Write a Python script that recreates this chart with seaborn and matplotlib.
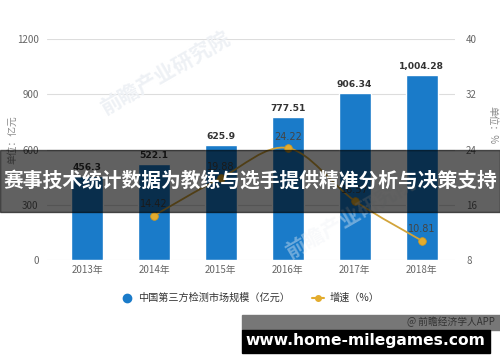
"""
China third-party testing market size with growth rate, 2013-2018
"""
import numpy as np
import pandas as pd
import matplotlib
matplotlib.use('Agg')
import matplotlib.pyplot as plt
from matplotlib.path import Path
from matplotlib.patches import PathPatch, Rectangle
from matplotlib.lines import Line2D
import seaborn as sns

years = ['2013年', '2014年', '2015年', '2016年', '2017年', '2018年']
market_size = [456.3, 522.1, 625.9, 777.51, 906.34, 1004.28]
size_labels = ['456.3', '522.1', '625.9', '777.51', '906.34', '1,004.28']
growth_years = ['2014年', '2015年', '2016年', '2017年', '2018年']
growth = [14.42, 19.88, 24.22, 16.57, 10.81]

banner_text = '赛事技术统计数据为教练与选手提供精准分析与决策支持'
site_text = 'www.home-milegames.com'

sns.set_style('white')
plt.rcParams['font.family'] = ['Noto Sans CJK SC', 'DejaVu Sans']

BLUE = '#1a7bc9'
GOLD = '#e3ac2e'
GREY = '#666666'

fig = plt.figure(figsize=(5, 3.62), dpi=100)
ax = fig.add_axes([0.094, 0.282, 0.816, 0.61])

df = pd.DataFrame({'year': years, 'size': market_size})
sns.barplot(data=df, x='year', y='size', color=BLUE, width=0.48,
            saturation=1, ax=ax, zorder=3)
ax.set_xlim(-0.6, 5.5)
ax.set_ylim(0, 1200)
ax.set_yticks([0, 300, 600, 900, 1200])
ax.grid(axis='y', color='#dddddd', lw=0.8, zorder=0)
ax.set_xlabel('')
ax.set_ylabel('')
for s in ax.spines.values():
    s.set_visible(False)
ax.tick_params(axis='both', length=0, colors=GREY, labelsize=7)
ax.tick_params(axis='y', pad=6)

for i, (v, lab) in enumerate(zip(market_size, size_labels)):
    ax.text(i, v + 22, lab, ha='center', va='bottom', fontsize=6.6,
            fontweight='bold', color='#333333', family='DejaVu Sans', zorder=5)

ax2 = ax.twinx()
ax2.set_ylim(8, 40)
ax2.set_yticks([8, 16, 24, 32, 40])
for s in ax2.spines.values():
    s.set_visible(False)
ax2.tick_params(axis='y', length=0, colors=GREY, labelsize=7, pad=8)

# smooth line through the growth points (cardinal spline as bezier)
gx = np.array([years.index(y) for y in growth_years], dtype=float)
gy = np.array(growth)
pts = np.column_stack([gx, gy])
ext = np.vstack([pts[0], pts, pts[-1]])
verts = [tuple(pts[0])]
codes = [Path.MOVETO]
for i in range(len(pts) - 1):
    p0, p1, p2, p3 = ext[i], ext[i + 1], ext[i + 2], ext[i + 3]
    c1 = p1 + (p2 - p0) / 6
    c2 = p2 - (p3 - p1) / 6
    verts += [tuple(c1), tuple(c2), tuple(p2)]
    codes += [Path.CURVE4] * 3
ax2.add_patch(PathPatch(Path(verts, codes), fill=False, edgecolor='#d2a43a',
                        lw=1.3, zorder=4))
sns.scatterplot(x=gx, y=gy, color=GOLD, s=30, edgecolor='#d29a20',
                linewidth=0.6, ax=ax2, zorder=6)
ax2.set_xlim(-0.6, 5.5)
for x, y in zip(gx, gy):
    ax2.text(x, y + 0.9, f'{y:.2f}', ha='center', va='bottom', fontsize=7,
             color='#444444', family='DejaVu Sans', zorder=7)

fig.text(0.024, 0.615, '单位：亿元', rotation=90, ha='center', va='center',
         fontsize=7, color='#888888')
fig.text(0.984, 0.655, '单位：%', rotation=270, ha='center', va='center',
         fontsize=7, color='#888888')

# faint watermark
fig.text(0.33, 0.8, '前瞻产业研究院', rotation=30, fontsize=15, color='#eef1f5',
         fontweight='bold', ha='center', va='center', zorder=0)
fig.text(0.7, 0.4, '前瞻产业研究院', rotation=30, fontsize=15, color='#eef1f5',
         fontweight='bold', ha='center', va='center', zorder=0, alpha=0.4)

handles = [
    Line2D([], [], marker='o', color=BLUE, ls='none', markersize=6),
    Line2D([], [], marker='o', color=GOLD, lw=1.5, markersize=4),
]
fig.legend(handles, ['中国第三方检测市场规模（亿元）', '增速（%）'],
           loc='center', bbox_to_anchor=(0.5, 0.177), ncol=2, frameon=False,
           fontsize=7.3, handlelength=1.2, handletextpad=0.5, columnspacing=2.2,
           labelcolor='#333333')

# overlay banner across the middle
fig.patches.append(Rectangle((0, 1 - 212 / 362), 1, 62 / 362,
                             transform=fig.transFigure, color='#000000',
                             alpha=0.62, zorder=10))
fig.text(0.5, 1 - 181 / 362, banner_text, ha='center', va='center',
         fontsize=14.2, fontweight='bold', color='white', zorder=11)

# bottom stamp
fig.patches.append(Rectangle((242 / 500, 1 - 330 / 362), 258 / 500, 15 / 362,
                             transform=fig.transFigure, color='#777777',
                             zorder=10))
fig.text(0.99, 1 - 322 / 362, '@ 前瞻经济学人APP', ha='right', va='center',
         fontsize=7, color='#333333', zorder=11)
fig.patches.append(Rectangle((242 / 500, 1 - 353 / 362), 248 / 500, 23 / 362,
                             transform=fig.transFigure, color='#000000',
                             zorder=10))
fig.text(0.73, 1 - 341 / 362, site_text, ha='center', va='center',
         fontsize=11.2, fontweight='bold', color='white',
         family='DejaVu Sans', zorder=11)

fig.savefig('out.png', dpi=100)
